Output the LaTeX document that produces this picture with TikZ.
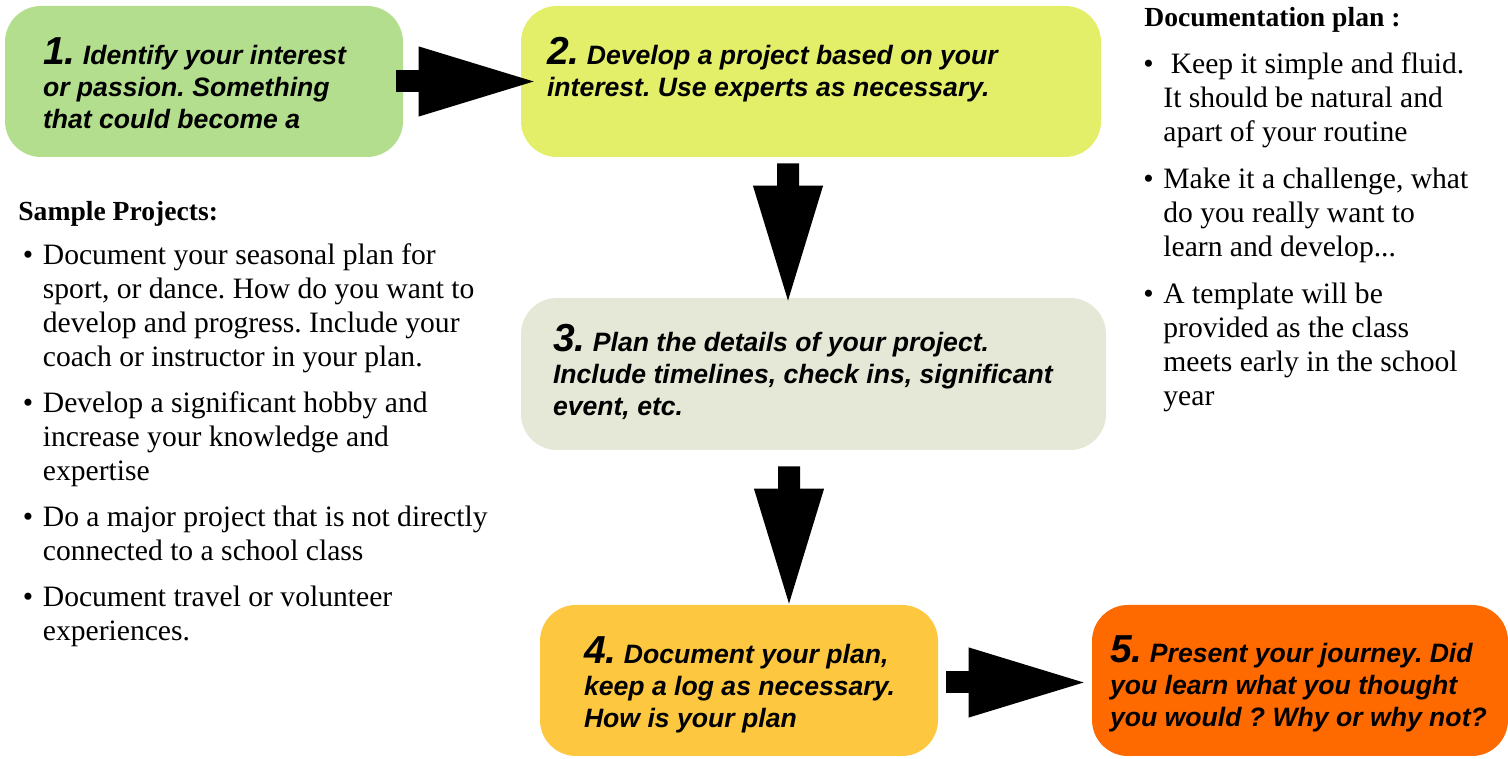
\documentclass[tikz,border=0pt]{standalone}
\usepackage{fontspec}
\setmainfont{Liberation Serif}
\newfontfamily\boxfont{Liberation Sans}
\usepackage{tikz}
\usetikzlibrary{positioning,arrows.meta}
\frenchspacing
\definecolor{hexcolor0xb3de8e}{rgb}{0.702,0.871,0.557}
\definecolor{hexcolor0xe4ef69}{rgb}{0.894,0.937,0.412}
\definecolor{hexcolor0xe5e8d6}{rgb}{0.898,0.910,0.839}
\definecolor{hexcolor0xfdc840}{rgb}{0.992,0.784,0.251}
\definecolor{hexcolor0xff6a00}{rgb}{1.000,0.416,0.000}
\definecolor{myblack}{rgb}{0.000,0.000,0.000}
\tikzstyle{stepbox}=[rectangle,rounded corners=18pt,inner sep=0pt,minimum height=75.5pt]
\tikzstyle{boxA}=[stepbox,fill=hexcolor0xb3de8e,minimum width=199pt]
\tikzstyle{boxB}=[stepbox,fill=hexcolor0xe4ef69,minimum width=290pt]
\tikzstyle{boxC}=[stepbox,fill=hexcolor0xe5e8d6,minimum width=292.5pt,minimum height=76pt]
\tikzstyle{boxD}=[stepbox,fill=hexcolor0xfdc840,minimum width=199pt]
\tikzstyle{boxE}=[stepbox,fill=hexcolor0xff6a00,minimum width=208pt]
\tikzstyle{steptext}=[inner sep=0pt,align=left,anchor=west,font=\boxfont\bfseries\itshape\fontsize{13.3}{16}\selectfont]
\tikzstyle{listtext}=[inner sep=0pt,anchor=base west,font=\fontsize{14.8}{17}\selectfont]
\tikzstyle{listhead}=[inner sep=0pt,anchor=base west,font=\bfseries\fontsize{13.8}{17}\selectfont]
\tikzstyle{bigarrow}=[draw=myblack,line width=11pt,-{Triangle[length=60.5pt,width=31.5pt]}]
\newcommand{\stepno}[1]{{\fontsize{19.5}{16}\selectfont #1}}

\begin{document}
\begin{tikzpicture}[x=25pt,y=25pt]
	\useasboundingbox (0,0) rectangle (30.16,15.18);
	% the five steps
	\node [style=boxA] (1) at (4.08, 13.55) {};
	\node [style=boxB] (2) at (16.22, 13.55) {};
	\node [style=boxC] (3) at (16.27, 7.70) {};
	\node [style=boxD] (4) at (14.78, 1.57) {};
	\node [style=boxE] (5) at (26.00, 1.57) {};
	\node [style=steptext, right=19pt of 1.west, yshift=-1pt] (11) {\stepno{1.} Identify your interest\\or passion. Something\\that could become a};
	\node [style=steptext, right=13pt of 2.west, yshift=6pt] (12) {\stepno{2.} Develop a project based on your\\interest. Use experts as necessary.};
	\node [style=steptext, right=16pt of 3.west, yshift=1pt] (13) {\stepno{3.} Plan the details of your project.\\Include timelines, check ins, significant\\event, etc.};
	\node [style=steptext, right=22pt of 4.west, yshift=-2pt] (14) {\stepno{4.} Document your plan,\\keep a log as necessary.\\How is your plan};
	\node [style=steptext, right=9pt of 5.west, yshift=-1.5pt] (15) {\stepno{5.} Present your journey. Did\\you learn what you thought\\you would ? Why or why not?};
	% arrows
	\draw [style=bigarrow] ([xshift=-3.5pt]1.east) to ([xshift=9.5pt]2.west);
	\draw [style=bigarrow] ([xshift=-11.5pt,yshift=-3pt]2.south) to ([xshift=-12.75pt,yshift=-4.5pt]3.north);
	\draw [style=bigarrow] ([xshift=-12.25pt,yshift=-8pt]3.south) to ([xshift=25pt,yshift=-2.5pt]4.north);
	\draw [style=bigarrow] ([xshift=4pt,yshift=-1pt]4.east) to ([xshift=-1pt,yshift=-1pt]5.west);
	% side notes
	\node [style=listhead] (20) at (0.36, 10.76) {Sample Projects:};
	\node [style=listtext] (21) at (0.45, 9.89) {\begin{tabular}[t]{@{}p{10pt}@{}l@{}}
		\textbullet & Document your seasonal plan for\\
		& sport, or dance. How do you want to\\
		& develop and progress. Include your\\
		& coach or instructor in your plan.\\[6pt]
		\textbullet & Develop a significant hobby and\\
		& increase your knowledge and\\
		& expertise\\[6pt]
		\textbullet & Do a major project that is not directly\\
		& connected to a school class\\[6pt]
		\textbullet & Document travel or volunteer\\
		& experiences.
	\end{tabular}};
	\node [style=listhead] (22) at (22.88, 14.64) {Documentation plan :};
	\node [style=listtext] (23) at (22.86, 13.70) {\begin{tabular}[t]{@{}p{10pt}@{}l@{}}
		\textbullet & \ Keep it simple and fluid.\\
		& It should be natural and\\
		& apart of your routine\\[6.5pt]
		\textbullet & Make it a challenge, what\\
		& do you really want to\\
		& learn and develop...\\[6.5pt]
		\textbullet & A template will be\\
		& provided as the class\\
		& meets early in the school\\
		& year
	\end{tabular}};
\end{tikzpicture}
\end{document}
